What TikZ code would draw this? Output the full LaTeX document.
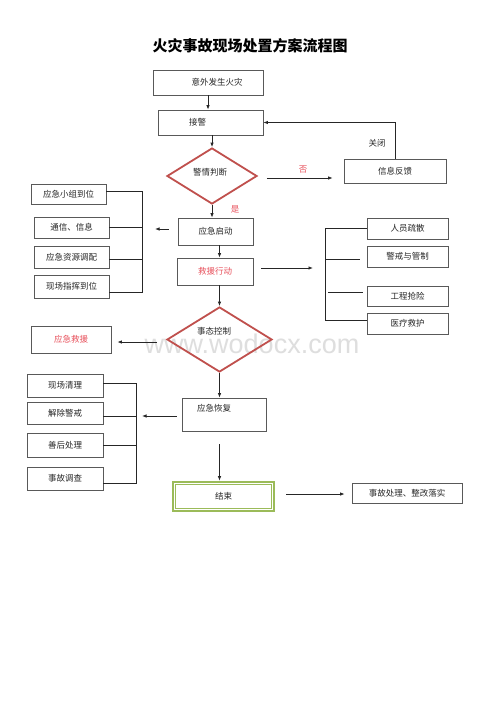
\documentclass[tikz,border=0pt]{standalone}
\usepackage{fontspec}
\setmainfont{Noto Sans CJK SC}
\newfontfamily\wmfont{Liberation Sans}
\usetikzlibrary{shapes.geometric,arrows.meta}
\definecolor{myred}{HTML}{C0504D}
\definecolor{txtred}{HTML}{E8505B}
\definecolor{mygreen}{HTML}{9BBB59}
\begin{document}
\begin{tikzpicture}[x=1pt,y=-1pt,
  box/.style={draw=black!65, line width=0.8pt, inner sep=0pt, font=\fontsize{8.5}{10}\selectfont, text=black!85},
  conn/.style={draw=black!85, line width=0.8pt},
  arr/.style={conn, -{Latex[length=4.5pt,width=3.5pt]}},
  redd/.style={diamond, draw=myred, line width=1.8pt, inner sep=0pt},
  lbl/.style={inner sep=0pt, font=\fontsize{8.5}{10}\selectfont}]
\useasboundingbox[fill=white] (0,0) rectangle (500,706);

% watermark
\node[inner sep=0pt, text=black!13, font=\wmfont\fontsize{27}{30}\selectfont] (wm) at (252,344) {www.wodocx.com};

% title
\node[inner sep=0pt, font=\bfseries\fontsize{15}{18}\selectfont] (title) at (250,46) {火灾事故现场处置方案流程图};

% main column
\node[box, minimum width=110pt, minimum height=25pt] (a) at (208,82.5) {\hspace{18pt}意外发生火灾};
\node[box, minimum width=105pt, minimum height=25pt] (b) at (210.5,122.5) {\hspace{-26pt}接警};
\node[redd, minimum width=90pt, minimum height=56pt] (d1) at (212,176) {};
\node[lbl, text=black!85] (d1t) at (210,172) {警情判断};
\node[box, minimum width=102pt, minimum height=24pt] (f) at (395,171) {信息反馈};
\node[box, minimum width=75pt, minimum height=27pt] (c1) at (215.5,231.5) {应急启动};
\node[box, minimum width=76pt, minimum height=27pt, text=txtred] (c2) at (215,271.5) {救援行动};
\node[redd, minimum width=105pt, minimum height=65pt] (d2) at (219.5,339.5) {};
\node[lbl, text=black!85] (d2t) at (214,331) {事态控制};
\node[box, minimum width=80pt, minimum height=27pt, text=txtred] (e) at (71,339.5) {应急救援};
\node[box, minimum width=84pt, minimum height=33pt] (g) at (224,414.5) {};
\node[lbl, text=black!85] (gt) at (214,408) {应急恢复};
\node[box, draw=mygreen, line width=2.6pt, minimum width=101pt, minimum height=29pt] (h) at (223.5,496.5) {结束};
\draw[mygreen, line width=0.8pt] ([shift={(3.6pt,-3.6pt)}]h.north west) rectangle ([shift={(-3.6pt,3.6pt)}]h.south east);
\node[box, minimum width=110pt, minimum height=20pt] (k) at (407,493) {事故处理、整改落实};

% left group 1
\node[box, minimum width=75pt, minimum height=20pt] (l1) at (68.5,194) {应急小组到位};
\node[box, minimum width=75pt, minimum height=21pt] (l2) at (71.5,227.5) {通信、信息};
\node[box, minimum width=75pt, minimum height=22pt] (l3) at (71.5,257) {应急资源调配};
\node[box, minimum width=75pt, minimum height=23pt] (l4) at (71.5,286.5) {现场指挥到位};
\coordinate (lt) at (142,191);
\coordinate (lb) at (142,292);

% right group
\node[box, minimum width=81pt, minimum height=21pt] (r1) at (407.5,228.5) {人员疏散};
\node[box, minimum width=81pt, minimum height=21pt] (r2) at (407.5,256.5) {警戒与管制};
\node[box, minimum width=81pt, minimum height=20pt] (r3) at (407.5,296) {工程抢险};
\node[box, minimum width=81pt, minimum height=21pt] (r4) at (407.5,323.5) {医疗救护};
\coordinate (rt) at (325,228.5);
\coordinate (rb) at (325,320);

% left group 2
\node[box, minimum width=76pt, minimum height=23pt] (m1) at (65,385.5) {现场清理};
\node[box, minimum width=76pt, minimum height=22pt] (m2) at (65,413) {解除警戒};
\node[box, minimum width=76pt, minimum height=24pt] (m3) at (65,445) {善后处理};
\node[box, minimum width=76pt, minimum height=23pt] (m4) at (65,478.5) {事故调查};
\coordinate (mt) at (136,383);
\coordinate (mb) at (136,483);

% connectors main
\draw[arr] (a.south) -- (a.south |- b.north);
\draw[arr] (b.south -| d1.north) -- (d1.north);
\draw[arr, shorten <=9pt, shorten >=11pt] ([yshift=-2pt]d1.east) -- ([yshift=-2pt]d1.east -| f.west);
\node[lbl, text=txtred] (no) at (303,170) {否};
\draw[arr] (f.north) |- (b.east);
\node[lbl, text=black!85] (close) at (377,143) {关闭};
\draw[arr] (d1.south) -- (d1.south |- c1.north);
\node[lbl, text=txtred] (yes) at (235,209) {是};
\draw[arr] (d2.north |- c1.south) -- (d2.north |- c2.north);
\draw[arr] (d2.north |- c2.south) -- (d2.north);
\draw[arr, shorten <=9pt, shorten >=6pt] ([yshift=-2.5pt]d2.west) -- ([yshift=-2.5pt]d2.west -| e.east);
\draw[arr] (d2.south) -- (d2.south |- g.north);
\draw[arr, shorten <=13pt] (d2.south |- g.south) -- (d2.south |- h.north);
\draw[arr, shorten <=11pt, shorten >=7pt] ([yshift=2.5pt]h.east) -- ([yshift=2.5pt]h.east -| k.west);

% left bracket 1
\draw[conn] ([yshift=3pt]l1.east) -- (lt) -- (lb) -- (lb -| l4.east);
\draw[conn] (l2.east) -- (l2.east -| lt);
\draw[conn] ([yshift=-2pt]l3.east) -- ([yshift=-2pt]l3.east -| lt);
\draw[arr, shorten <=9pt, shorten >=13pt] ([yshift=2.5pt]c1.west) -- ([yshift=2.5pt]c1.west -| lt);

% right bracket
\draw[conn] (r1.west) -- (rt) -- (rb) -- (rb -| r4.west);
\draw[conn] (325,259) -- ([xshift=-7pt]r2.west |- 0,259);
\draw[conn] (328,292) -- ([xshift=-4pt]r3.west |- 0,292);
\draw[arr, shorten <=8pt, shorten >=12pt] ([yshift=3.5pt]c2.east) -- ([yshift=3.5pt]c2.east -| rt);

% left bracket 2
\draw[conn] (mt -| m1.east) -- (mt) -- (mb) -- (mb -| m4.east);
\draw[conn] ([yshift=-3pt]m2.east) -- ([yshift=-3pt]m2.east -| mt);
\draw[conn] (m3.east) -- (m3.east -| mt);
\draw[arr, shorten <=5pt, shorten >=6pt] ([yshift=-1.5pt]g.west) -- ([yshift=-1.5pt]g.west -| mt);
\end{tikzpicture}
\end{document}
